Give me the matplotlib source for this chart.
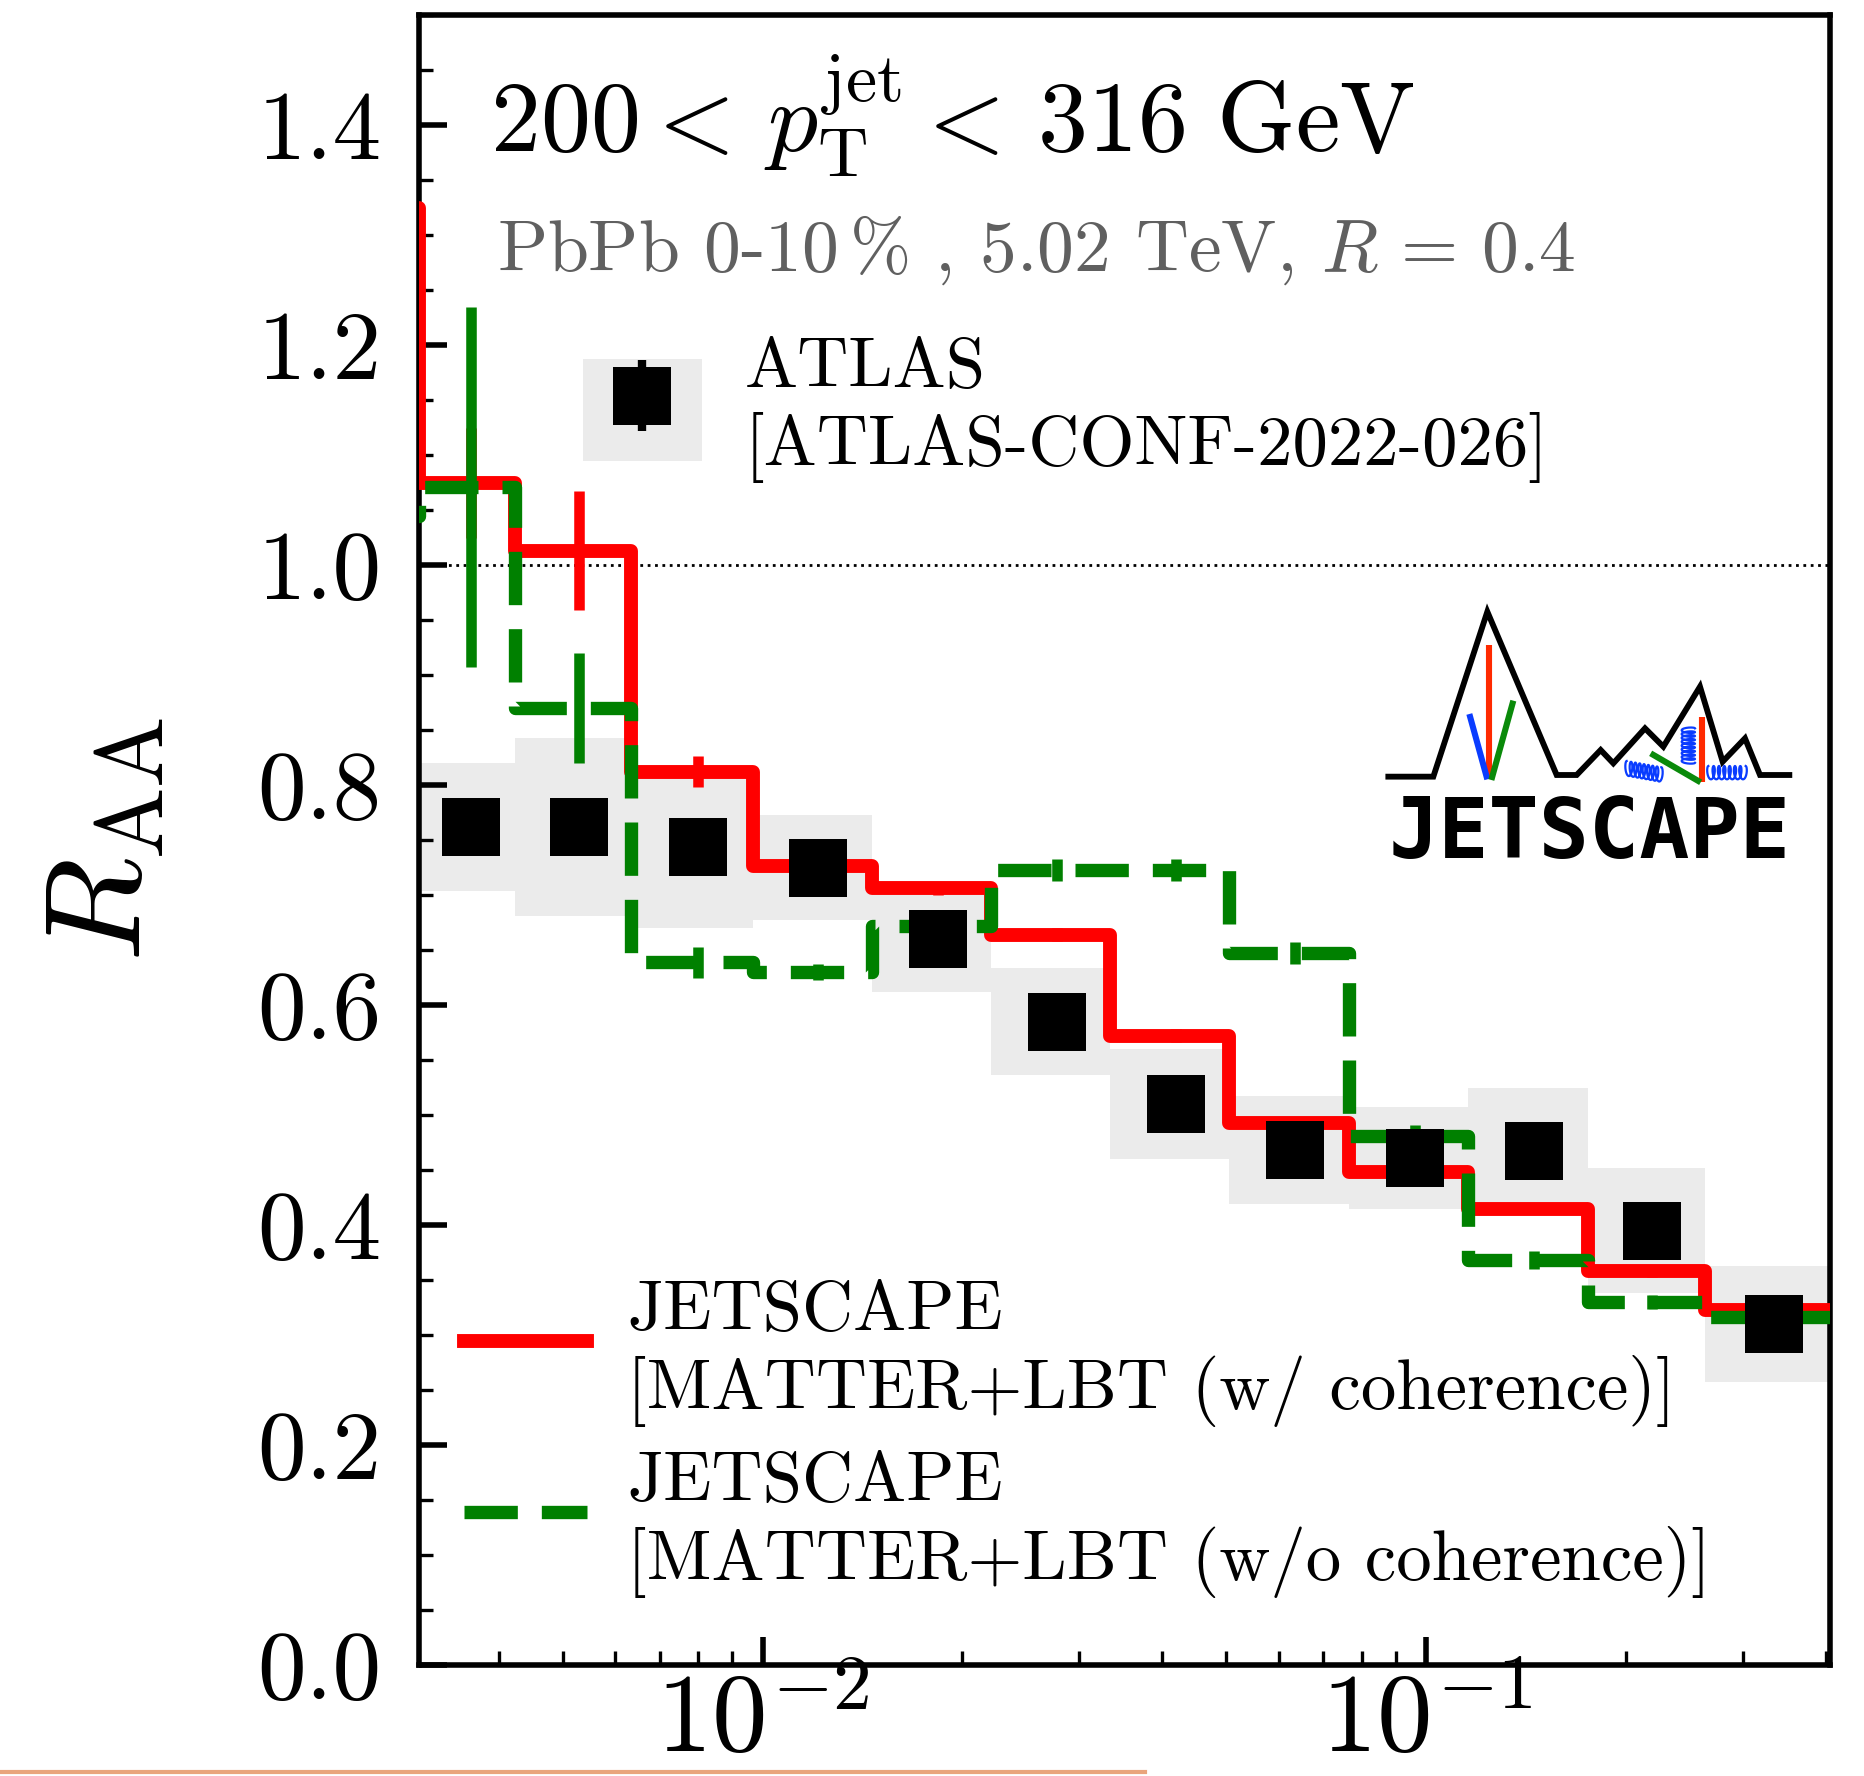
import numpy as np
import matplotlib
matplotlib.use('Agg')
import matplotlib.pyplot as plt
from matplotlib.lines import Line2D
from matplotlib.patches import Patch
from matplotlib.ticker import (FixedLocator, FixedFormatter, LogLocator,
                               NullFormatter, MultipleLocator, FormatStrFormatter)

plt.rcParams['font.family'] = 'cmr10'
plt.rcParams['mathtext.fontset'] = 'cm'
plt.rcParams['axes.unicode_minus'] = False
plt.rcParams['axes.formatter.use_mathtext'] = True

# bin edges; the first bin sits left of the plotted range
edges = [0.002, 0.003035, 0.004235, 0.006335, 0.009656, 0.01462, 0.02209,
         0.03338, 0.05053, 0.07645, 0.1157, 0.1752, 0.2631, 0.406]

# JETSCAPE MATTER+LBT, with and without coherence effects
coh = [1.325, 1.075, 1.013, 0.812, 0.726, 0.706, 0.664, 0.572, 0.493,
       0.448, 0.415, 0.358, 0.323]
coh_err = [0.05, 0.054, 0.014, 0.006, 0.006, 0.006, 0.006, 0.005, 0.005,
           0.005, 0.005, 0.005]
nocoh = [1.045, 1.071, 0.870, 0.639, 0.630, 0.672, 0.723, 0.723, 0.647,
         0.481, 0.368, 0.330, 0.316]
nocoh_err = [0.164, 0.05, 0.014, 0.007, 0.008, 0.01, 0.01, 0.01, 0.01,
             0.008, 0.006, 0.006]

# ATLAS-CONF-2022-026
atlas = [0.762, 0.762, 0.744, 0.725, 0.660, 0.585, 0.510, 0.468, 0.461,
         0.467, 0.395, 0.310]
atlas_stat = [0.018, 0.018, 0.016, 0.015, 0.015, 0.016, 0.016, 0.017,
              0.017, 0.018, 0.019, 0.02]
atlas_sys = [0.058, 0.081, 0.074, 0.048, 0.048, 0.049, 0.05, 0.049, 0.046,
             0.058, 0.057, 0.053]

lo = np.array(edges[1:-1])
hi = np.array(edges[2:])
centers = 0.5 * (lo + hi)
atlas = np.array(atlas)
atlas_sys = np.array(atlas_sys)

fig = plt.figure(figsize=(9.325, 8.88), dpi=200)
ax = fig.add_axes([0.22466, 0.0625, 0.75657, 0.92905])

ax.bar(lo, 2 * atlas_sys, width=hi - lo, bottom=atlas - atlas_sys,
       align='edge', color='#ebebeb', linewidth=0, zorder=1)
ax.axhline(1.0, color='black', ls=':', lw=1.0, zorder=2)

coh_step = ax.stairs(coh, edges, baseline=None, color='red', lw=5,
                     joinstyle='round', zorder=3)
ax.errorbar(centers, coh[1:], yerr=coh_err, fmt='none', ecolor='red',
            elinewidth=3.8, zorder=3)
nocoh_step = ax.stairs(nocoh, edges, baseline=None, color='green', lw=4.8,
                       ls=(0, (4.0, 1.8)), joinstyle='round', zorder=4)
ax.errorbar(centers, nocoh[1:], yerr=nocoh_err, fmt='none', ecolor='green',
            elinewidth=3.8, zorder=4)
atlas_eb = ax.errorbar(centers, atlas, yerr=atlas_stat, fmt='s', color='black',
                       ms=20.8, mew=0, elinewidth=3, capsize=0, zorder=6)

ax.set_xscale('log')
ax.set_xlim(edges[1], edges[-1])
ax.set_ylim(0, 1.5)
ax.xaxis.set_major_locator(FixedLocator([0.01, 0.1]))
ax.xaxis.set_major_formatter(FixedFormatter([r'$10^{-2}$', r'$10^{-1}$']))
ax.xaxis.set_minor_locator(LogLocator(base=10, subs=np.arange(2, 10)))
ax.xaxis.set_minor_formatter(NullFormatter())
ax.yaxis.set_major_locator(MultipleLocator(0.2))
ax.yaxis.set_minor_locator(MultipleLocator(0.05))
ax.yaxis.set_major_formatter(FormatStrFormatter('%.1f'))

ax.tick_params(which='both', direction='in', top=False, right=False)
ax.tick_params(which='major', length=10, width=2)
ax.tick_params(which='minor', length=5, width=1.2)
ax.tick_params(axis='y', labelsize=35, pad=13.5)
ax.tick_params(axis='x', labelsize=40, pad=3)
for s in ax.spines.values():
    s.set_linewidth(2)

ax.text(0.0503, 0.9176,
        r'$200<\,p_{\mathrm{T}}^{\mathrm{jet}}<\,316\ \mathrm{GeV}$',
        transform=ax.transAxes, fontsize=36, va='baseline')
ax.text(0.0553, 0.8448, r'PbPb 0-10$\,$% , 5.02 TeV, $R\,=\,0.4$',
        transform=ax.transAxes, fontsize=26.5, color='#606060', va='baseline')
fig.text(107 / 1865, 1 - 839 / 1776, r'$R_{\mathrm{AA}}$', rotation=90,
         fontsize=49, ha='center', va='center')

# model legend, bottom left
leg2 = ax.legend([coh_step, nocoh_step],
                 ['JETSCAPE\n[MATTER+LBT (w/ coherence)]',
                  'JETSCAPE\n[MATTER+LBT (w/o coherence)]'],
                 loc='center left', bbox_to_anchor=(0.0319, 0.137),
                 fontsize=25.5, frameon=False, handlelength=1.73,
                 handleheight=1.2, handletextpad=0.57, labelspacing=0.35,
                 borderpad=0, borderaxespad=0)
ax.add_artist(leg2)

# data legend
leg1 = ax.legend([(Patch(facecolor='#ebebeb', edgecolor='none'), atlas_eb)],
                 ['ATLAS\n[ATLAS-CONF-2022-026]'],
                 loc='center left', bbox_to_anchor=(0.1162, 0.7606),
                 fontsize=25.5, frameon=False, handlelength=1.68,
                 handleheight=1.85, handletextpad=0.6, borderpad=0,
                 borderaxespad=0)

for leg in (leg1, leg2):
    for col in leg._legend_handle_box.get_children():
        for item in col.get_children():
            item.align = 'center'

# JETSCAPE logo, drawn in its own pixel-like frame
lg = fig.add_axes([1350 / 1865, 1 - 880 / 1776, 515 / 1865, 300 / 1776])
lg.set_xlim(0, 1545)
lg.set_ylim(900, 0)
lg.axis('off')
ridge_x = [115, 250, 412, 620, 680, 752, 790, 885, 940, 1050, 1118, 1185, 1230, 1318]
ridge_y = [590, 590, 95, 585, 585, 510, 550, 445, 500, 320, 545, 475, 585, 585]
lg.plot(ridge_x, ridge_y, color='black', lw=2.1, solid_joinstyle='miter')
lg.plot([418, 418], [195, 598], color='#ff2a00', lw=2.2, solid_capstyle='butt')
lg.plot([358, 412], [402, 598], color='#0a3cff', lw=2.2, solid_capstyle='butt')
lg.plot([490, 424], [362, 600], color='#0a8a0a', lw=2.2, solid_capstyle='butt')
lg.plot([1055, 1055], [410, 607], color='#ff2a00', lw=2.2, solid_capstyle='butt')
lg.plot([902, 1052], [520, 607], color='#0a8a0a', lw=2.2, solid_capstyle='butt')

t = np.linspace(0, 2 * np.pi * 8, 600)
lg.plot(830 + 13 * t / (2 * np.pi) - 7 * np.sin(t), 565 + 0.18 * 13 * t / (2 * np.pi) - 22 * np.cos(t),
        color='#0a3cff', lw=0.8)
t = np.linspace(0, 2 * np.pi * 9, 600)
lg.plot(1015 + 20 * np.cos(t), 445 + 11.5 * t / (2 * np.pi) - 5 * np.sin(t),
        color='#0a3cff', lw=0.8)
t = np.linspace(0, 2 * np.pi * 7, 600)
lg.plot(1075 + 16 * t / (2 * np.pi) - 7 * np.sin(t), 578 - 20 * np.cos(t),
        color='#0a3cff', lw=0.8)

lg.text(720, 835, 'JETSCAPE', ha='center', va='baseline', fontsize=30,
        fontweight='bold', family='DejaVu Sans Mono')

fig.add_artist(Line2D([0, 1145 / 1865], [0.0022, 0.0022], transform=fig.transFigure,
                      color='#e9a57c', lw=1.5))

fig.savefig('out.png', dpi=200)
